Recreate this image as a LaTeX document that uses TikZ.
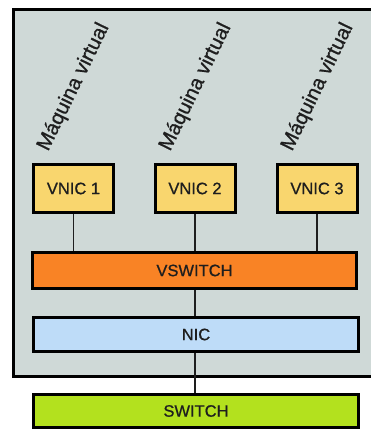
\documentclass[tikz,border=0pt]{standalone}
\usepackage{fontspec}
\setmainfont[FakeBold=0.8]{Liberation Sans}
\definecolor{bgray}{HTML}{CFD9D7}
\definecolor{vnicc}{HTML}{F9D66E}
\definecolor{vswc}{HTML}{F98325}
\definecolor{nicc}{HTML}{BEDCF8}
\definecolor{swc}{HTML}{B3E11E}
\definecolor{txt}{HTML}{1E1E1E}
\begin{document}
\begin{tikzpicture}[x=1pt,y=1pt,
  box/.style={draw=black,line width=3pt,inner sep=0pt,font=\fontsize{16.5}{18}\selectfont,text=txt},
  vnicbox/.style={box,fill=vnicc,minimum width=80pt,minimum height=48pt},
  barbox/.style={box,minimum width=325pt,minimum height=34pt},
  link/.style={draw=txt,line width=1.4pt},
  vmlabel/.style={rotate=64,anchor=base west,inner sep=0pt,font=\fontsize{20.5}{22}\selectfont,text=txt}]
\useasboundingbox (0,0) rectangle (370,430);
% host
\fill[bgray] (12,52) rectangle (372,422);
\draw[line width=3pt,black] (372,53.5) -- (13.5,53.5) -- (13.5,420.5) -- (372,420.5);
% nodes
\node[vnicbox] (v1) at (73.5,241.5) {VNIC 1};
\node[vnicbox] (v2) at (195,241.5) {VNIC 2};
\node[vnicbox] (v3) at (317,241.5) {VNIC 3};
\node[barbox,fill=vswc,minimum width=324pt,minimum height=36pt] (vsw) at (194.5,159.5) {VSWITCH};
\node[barbox,fill=nicc] (nic) at (196,95.5) {NIC};
\node[barbox,fill=swc,minimum height=33pt] (sw) at (196,19) {SWITCH};
% labels
\node[vmlabel] (m1) at (48,278) {Máquina virtual};
\node[vmlabel] (m2) at (170,278) {Máquina virtual};
\node[vmlabel] (m3) at (292,278) {Máquina virtual};
% connectors
\draw[link] (v1.south) -- (v1.south |- vsw.north);
\draw[link] (v2.south) -- (v2.south |- vsw.north);
\draw[link] (v3.south) -- (v3.south |- vsw.north);
\draw[link] (vsw.south -| v2.south) -- (nic.north -| v2.south);
\draw[link] (nic.south -| v2.south) -- (sw.north -| v2.south);
\end{tikzpicture}
\end{document}
